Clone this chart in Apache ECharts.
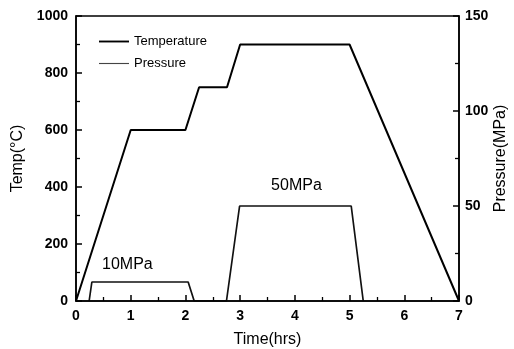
<!DOCTYPE html>
<html>
<head>
<meta charset="utf-8">
<script src="https://cdn.jsdelivr.net/npm/echarts@6/dist/echarts.min.js"></script>
<style>
  html, body { margin: 0; padding: 0; background: #fff; }
  #chart { width: 514px; height: 349px; }
</style>
</head>
<body>
<div id="chart"></div>
<script>
// Heating schedule: time in hours, temperature in °C
const tempTime  = [0, 1.0, 2.0, 2.25, 2.76, 3.0, 5.0, 7.0];
const tempValue = [0, 600, 600, 750, 750, 900, 900, 0];

// Applied pressure: time in hours, pressure in MPa
const presTime  = [0.24, 0.29, 2.05, 2.16, 2.75, 2.99, 5.03, 5.25];
const presValue = [0, 10, 10, 0, 0, 50, 50, 0];

// Pressure annotations (time, MPa, text)
const presNotes = [
  [0.93, 19, '10MPa'],
  [4.02, 61, '50MPa']
];

const FONT = 'Liberation Sans, Arial, sans-serif';

const chart = echarts.init(document.getElementById('chart'), null, { renderer: 'canvas' });

const zip = (xs, ys) => xs.map((x, i) => [x, ys[i]]);

const tickStyle = () => ({ show: true, inside: true, length: 6, lineStyle: { color: '#000', width: 1.5 } });
const minorStyle = () => ({ show: true, splitNumber: 2, length: 4, lineStyle: { color: '#000', width: 1.3 } });
const labelStyle = { fontFamily: FONT, fontSize: 14, fontWeight: 'bold', color: '#000' };

chart.setOption({
  animation: false,
  backgroundColor: '#fff',
  textStyle: { fontFamily: FONT, color: '#000' },
  grid: {
    left: 76, right: 55, top: 16, bottom: 48,
    containLabel: false, outerBoundsMode: 'none',
    show: true, borderColor: '#000', borderWidth: 1.5, z: 0
  },
  legend: {
    orient: 'vertical',
    left: 94, top: 30,
    itemWidth: 30, itemHeight: 12, itemGap: 9,
    textStyle: { fontFamily: FONT, fontSize: 13, color: '#000' },
    data: [
      { name: 'Temperature', icon: 'path://M0,5 L32,5 L32,7 L0,7 Z', itemStyle: { color: '#000' } },
      { name: 'Pressure', icon: 'path://M0,5.4 L32,5.4 L32,6.6 L0,6.6 Z', itemStyle: { color: '#444' } }
    ]
  },
  xAxis: {
    type: 'value', min: 0, max: 7, interval: 1, z: 5,
    name: 'Time(hrs)', nameLocation: 'middle', nameGap: 31, nameMoveOverlap: false,
    nameTextStyle: { fontFamily: FONT, fontSize: 16, color: '#000' },
    axisLine: { show: true, onZero: false, lineStyle: { color: '#000', width: 1.5 } },
    axisTick: tickStyle(),
    minorTick: minorStyle(),
    axisLabel: Object.assign({ margin: 8 }, labelStyle),
    splitLine: { show: false }
  },
  yAxis: [
    {
      type: 'value', min: 0, max: 1000, interval: 200, z: 5,
      name: 'Temp(°C)', nameLocation: 'middle', nameGap: 50, nameRotate: 90, nameMoveOverlap: false,
      nameTextStyle: { fontFamily: FONT, fontSize: 16, color: '#000' },
      axisLine: { show: true, onZero: false, lineStyle: { color: '#000', width: 1.5 } },
      axisTick: tickStyle(),
      minorTick: minorStyle(),
      axisLabel: Object.assign({ margin: 8, formatter: v => String(v) }, labelStyle),
      splitLine: { show: false }
    },
    {
      type: 'value', min: 0, max: 150, interval: 50, position: 'right', z: 5,
      name: 'Pressure(MPa)', nameLocation: 'middle', nameGap: 34, nameRotate: 90, nameMoveOverlap: false,
      nameTextStyle: { fontFamily: FONT, fontSize: 16, color: '#000' },
      axisLine: { show: true, onZero: false, lineStyle: { color: '#000', width: 1.5 } },
      axisTick: tickStyle(),
      minorTick: minorStyle(),
      axisLabel: Object.assign({ margin: 6, formatter: v => String(v) }, labelStyle),
      splitLine: { show: false }
    }
  ],
  series: [
    {
      name: 'Temperature', type: 'line', yAxisIndex: 0,
      data: zip(tempTime, tempValue),
      showSymbol: false, symbol: 'none',
      lineStyle: { color: '#000', width: 2 },
      itemStyle: { color: '#000' }
    },
    {
      name: 'Pressure', type: 'line', yAxisIndex: 1,
      data: zip(presTime, presValue),
      showSymbol: false, symbol: 'none',
      lineStyle: { color: '#111', width: 1.7 },
      itemStyle: { color: '#444' }
    },
    {
      name: 'notes', type: 'scatter', yAxisIndex: 1,
      symbolSize: 1, silent: true,
      itemStyle: { color: 'rgba(0,0,0,0)', opacity: 1 },
      data: presNotes.map(n => ({ value: [n[0], n[1]], name: n[2] })),
      label: {
        show: true, position: 'right', distance: 0,
        align: 'center', verticalAlign: 'middle',
        formatter: p => p.name,
        fontFamily: FONT, fontSize: 16, color: '#000', opacity: 1,
        textBorderWidth: 0
      }
    }
  ]
});
</script>
</body>
</html>
